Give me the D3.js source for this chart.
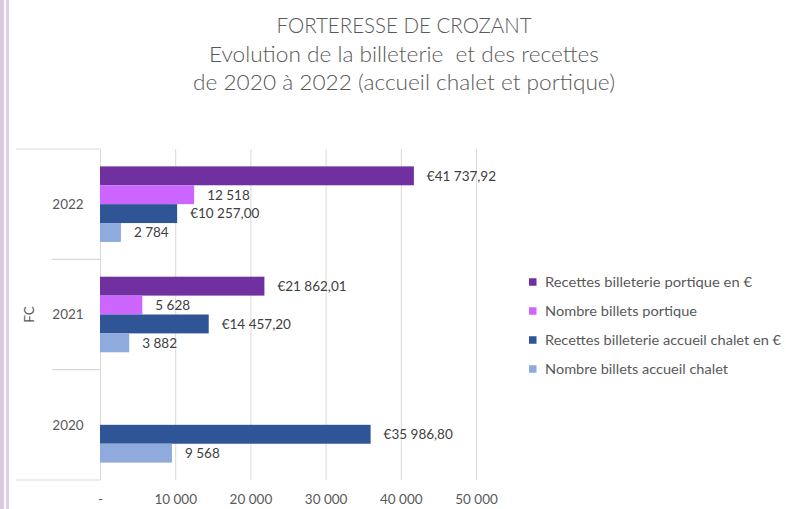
<!DOCTYPE html>
<html>
<head>
<meta charset="utf-8">
<script src="https://cdn.jsdelivr.net/npm/d3@7"></script>
<style>
  html, body { margin: 0; padding: 0; background: #ffffff; }
  svg { display: block; font-family: Lato, "Open Sans", sans-serif; }
</style>
</head>
<body>
<div id="chart"></div>
<script>
// ---------- data ----------
const titleLines = [
  "FORTERESSE DE CROZANT",
  "Evolution de la billeterie  et des recettes",
  "de 2020 à 2022 (accueil chalet et portique)"
];
const outerCategory = "FC";
const categories = ["2022", "2021", "2020"];
const seriesNames = [
  "Recettes billeterie portique en €",
  "Nombre billets portique",
  "Recettes billeterie accueil chalet en €",
  "Nombre billets accueil chalet"
];
const seriesIsCurrency = [true, false, true, false];
const recettesPortique = [41737.92, 21862.01, null];
const billetsPortique = [12518, 5628, null];
const recettesChalet = [10257.00, 14457.20, 35986.80];
const billetsChalet = [2784, 3882, 9568];
const seriesColors = ["#7030A0", "#CC66FF", "#2F5597", "#8FAADC"];
const tickValues = [0, 10000, 20000, 30000, 40000, 50000];
const tickLabels = ["-", "10 000", "20 000", "30 000", "40 000", "50 000"];

const seriesValues = [recettesPortique, billetsPortique, recettesChalet, billetsChalet];

// ---------- layout ----------
const W = 786, H = 509;
const plot = { left: 100, right: 476, top: 149, bottom: 480 };
const textColor = "#595959";
const labelColor = "#404040";
const gridColor = "#d9d9d9";

const svg = d3.select("#chart").append("svg")
  .attr("width", W).attr("height", H);

svg.append("rect").attr("width", W).attr("height", H).attr("fill", "#ffffff");
// lavender left border
svg.append("rect").attr("x", 0).attr("y", 0).attr("width", 4).attr("height", H).attr("fill", "#dacbe3");
svg.append("rect").attr("x", 6).attr("y", 0).attr("width", 3).attr("height", H).attr("fill", "#ddd2e8");

// title
const titleW = [255, 390, 422];
const titleY = [33, 61.5, 90];
svg.append("g").selectAll("text").data(titleLines).join("text")
  .attr("x", 404)
  .attr("y", (d, i) => titleY[i])
  .attr("text-anchor", "middle")
  .attr("font-size", 21.5)
  .attr("font-weight", 300)
  .attr("fill", textColor)
  .attr("textLength", (d, i) => titleW[i])
  .attr("lengthAdjust", "spacingAndGlyphs")
  .style("white-space", "pre")
  .text(d => d);

// scales
const x = d3.scaleLinear().domain([0, 50000]).range([plot.left, plot.right]);
const y = d3.scaleBand().domain(categories).range([plot.top, plot.bottom]).paddingInner(0).paddingOuter(0);
const ys = d3.scaleBand().domain(d3.range(seriesNames.length)).range([0, y.bandwidth()])
  .paddingInner(0).paddingOuter(0.92);

// x axis with gridlines
const xAxis = d3.axisBottom(x)
  .tickValues(tickValues)
  .tickFormat((d, i) => tickLabels[i])
  .tickSize(-(plot.bottom - plot.top))
  .tickPadding(14);
const gx = svg.append("g").attr("transform", `translate(0,${plot.bottom})`).call(xAxis);
gx.select(".domain").remove();
gx.selectAll("line").attr("stroke", gridColor).attr("stroke-width", 1);
gx.selectAll("text").attr("fill", textColor).attr("font-size", 13.5).attr("font-family", "Lato");

// category axis (multi-level)
const catLines = svg.append("g").attr("stroke", gridColor).attr("stroke-width", 1.2);
catLines.append("line").attr("x1", 16).attr("x2", plot.left).attr("y1", plot.top).attr("y2", plot.top);
catLines.append("line").attr("x1", 16).attr("x2", plot.left).attr("y1", plot.bottom).attr("y2", plot.bottom);
categories.slice(1).forEach(c => {
  catLines.append("line").attr("x1", 52).attr("x2", plot.left).attr("y1", y(c)).attr("y2", y(c));
});
svg.append("g").selectAll("text").data(categories).join("text")
  .attr("x", 68)
  .attr("y", d => y(d) + y.bandwidth() / 2)
  .attr("dy", "0.35em")
  .attr("text-anchor", "middle")
  .attr("font-size", 13.5)
  .attr("fill", textColor)
  .text(d => d);
svg.append("text")
  .attr("transform", `translate(29,${(plot.top + plot.bottom) / 2}) rotate(-90)`)
  .attr("dy", "0.35em")
  .attr("text-anchor", "middle")
  .attr("font-size", 13.5)
  .attr("fill", textColor)
  .text(outerCategory);

// bars
const locale = d3.formatLocale({ decimal: ",", thousands: " ", grouping: [3], currency: ["€", ""] });
const fmtCur = locale.format("$,.2f");
const fmtNum = locale.format(",.0f");

const barData = [];
seriesValues.forEach((vals, si) => {
  vals.forEach((v, ci) => {
    if (v !== null) barData.push({ si, cat: categories[ci], v });
  });
});

const gb = svg.append("g");
gb.selectAll("rect").data(barData).join("rect")
  .attr("x", x(0))
  .attr("y", d => y(d.cat) + ys(d.si))
  .attr("width", d => x(d.v) - x(0))
  .attr("height", ys.bandwidth())
  .attr("fill", d => seriesColors[d.si]);

gb.selectAll("text").data(barData).join("text")
  .attr("x", d => x(d.v) + 13)
  .attr("y", d => y(d.cat) + ys(d.si) + ys.bandwidth() / 2)
  .attr("dy", "0.36em")
  .attr("font-size", 13.5)
  .attr("fill", labelColor)
  .text(d => seriesIsCurrency[d.si] ? fmtCur(d.v) : fmtNum(d.v));

// legend
const legendW = [207, 152, 236, 183];
const lg = svg.append("g").selectAll("g").data(seriesNames).join("g")
  .attr("transform", (d, i) => `translate(529,${282 + i * 29})`);
lg.append("rect").attr("x", 0).attr("y", -3.75).attr("width", 7.5).attr("height", 7.5)
  .attr("fill", (d, i) => seriesColors[i]);
lg.append("text")
  .attr("x", 16)
  .attr("dy", "0.36em")
  .attr("font-size", 13.5)
  .attr("fill", textColor)
  .attr("textLength", (d, i) => legendW[i])
  .attr("lengthAdjust", "spacingAndGlyphs")
  .text(d => d);
</script>
</body>
</html>
